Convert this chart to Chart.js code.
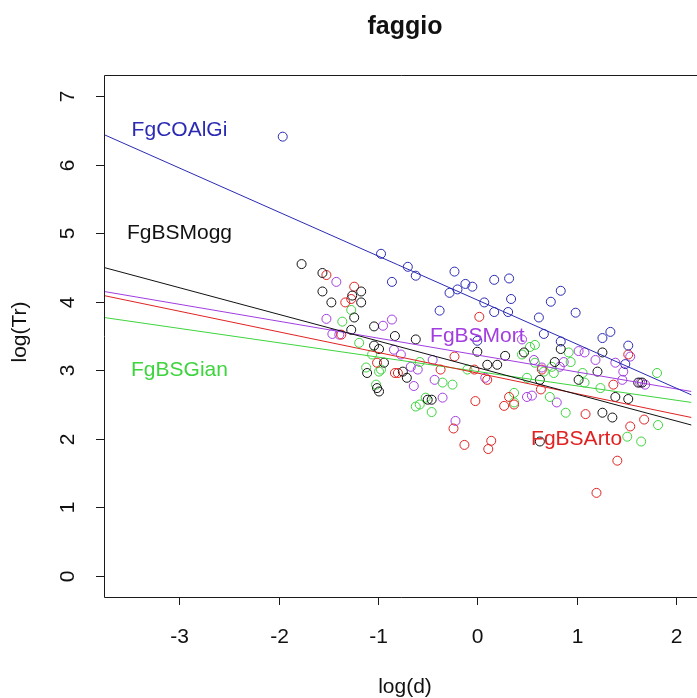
<!DOCTYPE html>
<html>
<head>
<meta charset="utf-8">
<script src="https://cdn.jsdelivr.net/npm/chart.js@4/dist/chart.umd.min.js"></script>
<style>
  html, body { margin: 0; padding: 0; background: #fff; }
  #c { display: block; }
</style>
</head>
<body>
<canvas id="c" width="697" height="698"></canvas>
<script>
// log(d) / log(Tr) pairs per plot series
const coalgiX = [-1.96,-0.97,-0.70,-0.62,-0.86,-0.23,-0.12,-0.05,-0.20,-0.28,0.17,0.32,0.07,0.17,0.31,0.34,-0.38,0.74,0.62,0.67,0.84,0.99,1.26,1.34,1.52,1.49,0.00,0.84];
const coalgiY = [6.41,4.70,4.51,4.38,4.29,4.44,4.26,4.22,4.18,4.13,4.32,4.34,3.99,3.85,3.85,4.04,3.87,4.00,3.77,3.53,4.16,3.84,3.47,3.56,3.36,3.09,3.43,3.42];

const moggX = [-1.77,-1.56,-1.56,-1.47,-1.26,-1.17,-1.17,-1.24,-1.27,-1.04,-0.83,-0.62,-1.04,-0.99,-0.94,-1.11,-0.75,-0.71,-1.01,-0.99,-0.50,-0.46,0.00,0.28,0.20,0.10,0.63,0.78,0.47,0.84,1.26,1.21,1.02,1.39,1.52,1.62,1.66,1.26,1.36,0.63];
const moggY = [4.55,4.42,4.15,3.99,4.09,4.15,3.99,3.77,3.59,3.64,3.50,3.45,3.36,3.31,3.11,2.96,2.98,2.89,2.74,2.69,2.57,2.57,3.27,3.21,3.08,3.08,2.86,3.12,3.26,3.31,3.26,2.98,2.86,2.61,2.58,2.82,2.82,2.38,2.31,1.96];

const artoX = [-1.52,-1.24,-1.27,-1.33,-1.37,-1.01,-0.83,-0.80,-0.24,-0.13,0.11,0.14,-0.02,0.27,0.37,0.64,0.02,-0.23,-0.37,-0.03,0.10,0.32,1.09,1.54,1.68,1.41,1.20,1.37,1.52,0.65];
const artoY = [4.39,4.22,4.04,3.99,3.52,3.11,2.96,2.96,2.15,1.91,1.85,1.97,2.55,2.48,2.50,2.72,3.78,3.20,3.01,3.01,2.86,2.61,2.36,2.18,2.28,1.68,1.21,2.79,3.23,3.01];

const gianX = [-1.27,-1.36,-1.19,-1.06,-0.97,-1.12,-1.02,-0.99,-0.58,-0.52,-0.58,-0.62,-0.35,-0.25,-0.46,0.37,0.37,0.53,0.58,0.45,0.58,0.67,0.75,-0.10,0.50,0.92,0.94,0.77,1.06,1.08,1.24,1.81,0.89,0.73,1.51,1.65,1.82];
const gianY = [3.88,3.71,3.40,3.23,3.01,3.04,2.79,2.98,2.50,2.60,3.12,2.47,2.82,2.79,2.39,2.67,2.53,3.34,3.37,3.23,3.11,2.98,3.05,3.01,2.89,3.26,3.12,2.96,2.96,2.82,2.74,2.96,2.38,2.61,2.03,1.96,2.20];

const mortX = [-1.42,-1.52,-1.46,-1.39,-0.95,-0.86,-0.84,-0.77,-0.64,-0.67,-0.60,-0.43,-0.35,-0.22,0.08,0.50,0.55,-0.45,0.45,0.57,0.65,1.02,1.08,1.19,1.39,1.47,1.46,1.64,1.69,0.80,0.83,0.87,1.54];
const mortY = [4.29,3.75,3.53,3.52,3.65,3.74,3.30,3.23,2.77,3.05,3.01,2.86,2.60,2.26,2.89,2.61,2.63,3.15,3.45,3.15,3.04,3.28,3.26,3.15,3.11,2.98,2.86,2.82,2.79,2.53,3.05,3.12,3.20];

// fitted lines: value at the left and right ends of the x range
const xEnds = [-3.76, 2.157];
const coalgiFit = [6.44, 2.64];
const moggFit = [4.50, 2.20];
const mortFit = [4.15, 2.69];
const artoFit = [4.09, 2.31];
const gianFit = [3.77, 2.53];

const xTicks = [-3, -2, -1, 0, 1, 2];
const yTicks = [0, 1, 2, 3, 4, 5, 6, 7];

const seriesNames = ['FgCOAlGi', 'FgBSMogg', 'FgBSMort', 'FgBSGian', 'FgBSArto'];

const COL = {
  coalgi: '#2a2ab4',
  mogg: '#111111',
  mort: '#a23de0',
  gian: '#3ed43e',
  arto: '#e02222'
};

function pts(xs, ys) { return xs.map((x, i) => ({ x: x, y: ys[i] })); }
function fit(ends) { return xEnds.map((x, i) => ({ x: x, y: ends[i] })); }

function scatterSet(xs, ys, color) {
  return {
    type: 'scatter', data: pts(xs, ys), order: 2,
    pointStyle: 'circle', pointRadius: 4.5, pointBorderWidth: 1,
    borderColor: color, backgroundColor: 'rgba(0,0,0,0)', pointHoverRadius: 4.5
  };
}
function lineSet(ends, color) {
  return {
    type: 'line', data: fit(ends), order: 1,
    borderColor: color, borderWidth: 1, pointRadius: 0, fill: false, tension: 0
  };
}

const FONT = '"Liberation Sans", Arial, sans-serif';

// series labels placed in data coordinates
const labelSpots = [
  { text: seriesNames[0], x: -3, y: 6.5, color: COL.coalgi },
  { text: seriesNames[1], x: -3, y: 5.0, color: COL.mogg },
  { text: seriesNames[2], x: 0, y: 3.5, color: COL.mort },
  { text: seriesNames[3], x: -3, y: 3.0, color: COL.gian },
  { text: seriesNames[4], x: 1, y: 2.0, color: COL.arto }
];

const framePlugin = {
  id: 'frame',
  afterDraw(chart) {
    const ctx = chart.ctx;
    const a = chart.chartArea;
    const sx = chart.scales.x, sy = chart.scales.y;
    ctx.save();
    ctx.strokeStyle = '#1a1a1a';
    ctx.lineWidth = 1;
    // plot box (the right side runs past the canvas)
    ctx.beginPath();
    ctx.moveTo(chart.width + 2, Math.round(a.top) + 0.5);
    ctx.lineTo(Math.round(a.left) + 0.5, Math.round(a.top) + 0.5);
    ctx.lineTo(Math.round(a.left) + 0.5, Math.round(a.bottom) + 0.5);
    ctx.lineTo(chart.width + 2, Math.round(a.bottom) + 0.5);
    ctx.stroke();

    // x axis ticks and labels
    ctx.fillStyle = '#111';
    ctx.font = '21px ' + FONT;
    ctx.textAlign = 'center';
    ctx.textBaseline = 'middle';
    xTicks.forEach(v => {
      const px = Math.round(sx.getPixelForValue(v)) + 0.5;
      ctx.beginPath();
      ctx.moveTo(px, a.bottom);
      ctx.lineTo(px, a.bottom + 8);
      ctx.stroke();
      ctx.fillText(String(v), px, a.bottom + 40);
    });
    // y axis ticks and rotated labels
    yTicks.forEach(v => {
      const py = Math.round(sy.getPixelForValue(v)) + 0.5;
      ctx.beginPath();
      ctx.moveTo(a.left, py);
      ctx.lineTo(a.left - 8, py);
      ctx.stroke();
      ctx.save();
      ctx.translate(a.left - 36, py);
      ctx.rotate(-Math.PI / 2);
      ctx.fillText(String(v), 0, 0);
      ctx.restore();
    });

    // axis titles
    ctx.fillText('log(d)', 405, 687);
    ctx.save();
    ctx.translate(20, 332);
    ctx.rotate(-Math.PI / 2);
    ctx.fillText('log(Tr)', 0, 0);
    ctx.restore();

    // main title
    ctx.font = 'bold 25px ' + FONT;
    ctx.fillText('faggio', 405, 27);

    // series labels
    ctx.font = '21px ' + FONT;
    labelSpots.forEach(l => {
      ctx.fillStyle = l.color;
      ctx.fillText(l.text, sx.getPixelForValue(l.x), sy.getPixelForValue(l.y));
    });
    ctx.restore();
  }
};

new Chart(document.getElementById('c'), {
  data: {
    datasets: [
      lineSet(coalgiFit, COL.coalgi),
      lineSet(moggFit, COL.mogg),
      lineSet(mortFit, COL.mort),
      lineSet(artoFit, COL.arto),
      lineSet(gianFit, COL.gian),
      scatterSet(coalgiX, coalgiY, COL.coalgi),
      scatterSet(moggX, moggY, COL.mogg),
      scatterSet(artoX, artoY, COL.arto),
      scatterSet(gianX, gianY, COL.gian),
      scatterSet(mortX, mortY, COL.mort)
    ]
  },
  options: {
    responsive: false,
    animation: false,
    events: [],
    layout: { padding: { left: 104, top: 75, right: 0, bottom: 101 } },
    plugins: { legend: { display: false }, tooltip: { enabled: false }, title: { display: false } },
    scales: {
      x: { type: 'linear', min: -3.76, max: 2.157, display: false },
      y: { type: 'linear', min: -0.31, max: 7.31, display: false }
    }
  },
  plugins: [framePlugin]
});
</script>
</body>
</html>
